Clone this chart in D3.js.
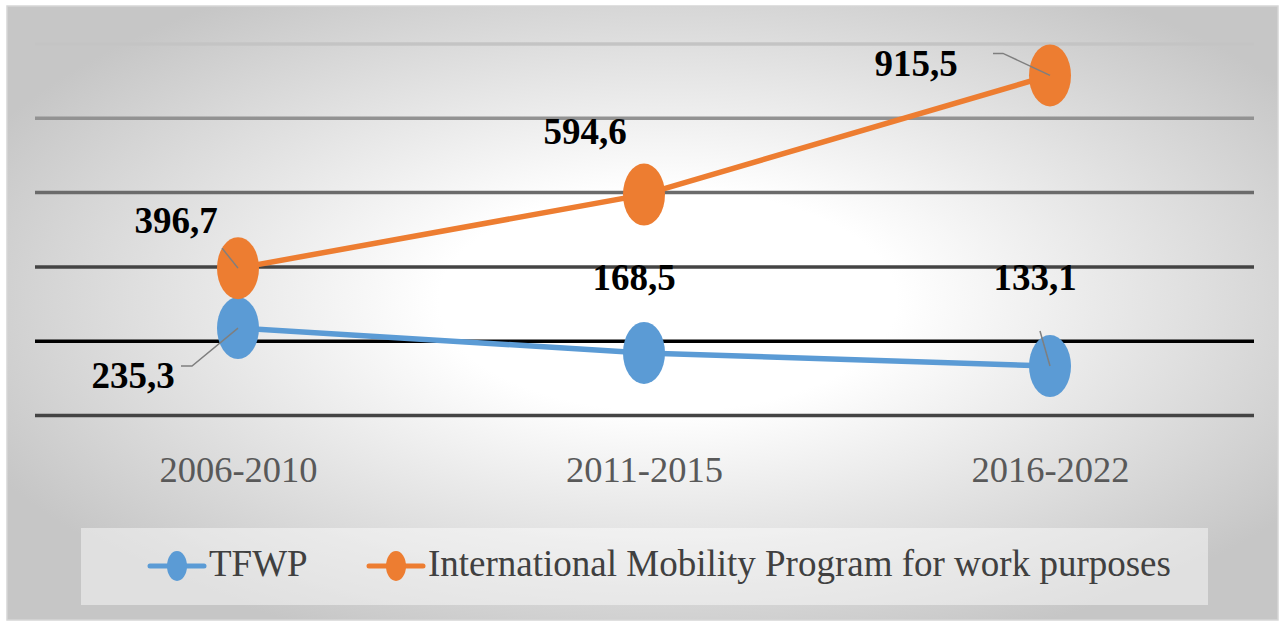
<!DOCTYPE html>
<html>
<head>
<meta charset="utf-8">
<script src="https://cdn.jsdelivr.net/npm/d3@7"></script>
<style>
  body { margin: 0; background: #fff; }
  svg { display: block; }
</style>
</head>
<body>
<div class="container"></div>
<script>
const periods = ['2006-2010', '2011-2015', '2016-2022'];
const tfwp = [235.3, 168.5, 133.1];
const imp = [396.7, 594.6, 915.5];
const seriesNames = ['TFWP', 'International Mobility Program for work purposes'];
const gridTicks = [0, 200, 400, 600, 800, 1000];

const width = 1285;
const height = 625;

// label offsets from the point: [dx, dy] of text, leader path (relative) or null
const labelLayout = [
  [
    { dx: -105, dy: 60, leader: [[-57, 38], [-46, 38], [0, 0]] },
    { dx: -10, dy: -63, leader: null },
    { dx: -15, dy: -76, leader: [[-10, -35], [0, 0]] }
  ],
  [
    { dx: -62, dy: -35, leader: [[-16, -20], [0, 0]] },
    { dx: -59, dy: -51, leader: null },
    { dx: -134, dy: 1, leader: [[-57, -22], [-47, -22], [0, 0]] }
  ]
];

const colors = ['#5b9bd5', '#ed7d31'];
const gridColor = d3.scaleLinear()
  .domain([0, 200, 400, 600, 800, 1000])
  .range(['#444', '#000', '#444', '#6b6b6b', '#929292', '#c4c4c4']);

const svg = d3.select('.container')
  .append('svg')
  .attr('width', width)
  .attr('height', height);

const defs = svg.append('defs');
const grad = defs.append('radialGradient')
  .attr('id', 'bg')
  .attr('cx', '0.52').attr('cy', '0.48').attr('r', '0.6');
grad.append('stop').attr('offset', '0').attr('stop-color', '#ffffff');
grad.append('stop').attr('offset', '0.3').attr('stop-color', '#ffffff');
grad.append('stop').attr('offset', '1').attr('stop-color', '#c6c6c6');

svg.append('rect')
  .attr('x', 7).attr('y', 6)
  .attr('width', 1271).attr('height', 614)
  .attr('fill', 'url(#bg)')
  .attr('stroke', '#d6d6d6')
  .attr('stroke-width', 1.5);

const xScale = d3.scalePoint()
  .domain(periods)
  .range([238, 1050]);

const yScale = d3.scaleLinear()
  .domain([0, 1000])
  .range([415.5, 44]);

// gridlines
svg.append('g')
  .selectAll('line')
  .data(gridTicks)
  .enter()
  .append('line')
  .attr('x1', 35)
  .attr('x2', 1254)
  .attr('y1', d => yScale(d))
  .attr('y2', d => yScale(d))
  .attr('stroke', d => gridColor(d))
  .attr('stroke-width', 3.5);

// category axis labels
const xAxis = d3.axisBottom(xScale).tickSize(0).tickPadding(0);
const gx = svg.append('g')
  .attr('transform', 'translate(0,456)')
  .call(xAxis);
gx.select('.domain').remove();
gx.selectAll('text')
  .attr('font-family', '"Liberation Serif", "Times New Roman", serif')
  .attr('font-size', 36.5)
  .attr('fill', '#595959');

const allSeries = [tfwp, imp];
const line = d3.line()
  .x((d, i) => xScale(periods[i]))
  .y(d => yScale(d));

allSeries.forEach((vals, s) => {
  const g = svg.append('g');
  g.append('path')
    .datum(vals)
    .attr('d', line)
    .attr('fill', 'none')
    .attr('stroke', colors[s])
    .attr('stroke-width', 5.5);
  g.selectAll('ellipse')
    .data(vals)
    .enter()
    .append('ellipse')
    .attr('cx', (d, i) => xScale(periods[i]))
    .attr('cy', d => yScale(d))
    .attr('rx', 21)
    .attr('ry', 31)
    .attr('fill', colors[s]);
});

// data labels with leader lines
allSeries.forEach((vals, s) => {
  vals.forEach((v, i) => {
    const px = xScale(periods[i]);
    const py = yScale(v);
    const lay = labelLayout[s][i];
    if (lay.leader) {
      svg.append('path')
        .attr('d', d3.line()(lay.leader.map(p => [px + p[0], py + p[1]])))
        .attr('fill', 'none')
        .attr('stroke', '#7f7f7f')
        .attr('stroke-width', 1.5);
    }
    svg.append('text')
      .attr('x', px + lay.dx)
      .attr('y', py + lay.dy)
      .attr('text-anchor', 'middle')
      .attr('font-family', '"Liberation Serif", "Times New Roman", serif')
      .attr('font-weight', 'bold')
      .attr('font-size', 37)
      .attr('fill', '#000')
      .text(d3.format('.1f')(v).replace('.', ','));
  });
});

// legend
svg.append('rect')
  .attr('x', 81).attr('y', 528)
  .attr('width', 1127).attr('height', 77)
  .attr('fill', '#ffffff')
  .attr('fill-opacity', 0.45);

const legendX = [150, 369];
seriesNames.forEach((name, s) => {
  const lg = svg.append('g').attr('transform', `translate(${legendX[s]},566)`);
  lg.append('line')
    .attr('x1', 0).attr('x2', 54)
    .attr('y1', 0).attr('y2', 0)
    .attr('stroke', colors[s])
    .attr('stroke-width', 5)
    .attr('stroke-linecap', 'round');
  lg.append('ellipse')
    .attr('cx', 27).attr('cy', 0)
    .attr('rx', 10).attr('ry', 15)
    .attr('fill', colors[s]);
  lg.append('text')
    .attr('x', 59)
    .attr('y', 10)
    .attr('font-family', '"Liberation Serif", "Times New Roman", serif')
    .attr('font-size', 37)
    .attr('fill', '#404040')
    .text(name);
});
</script>
</body>
</html>
